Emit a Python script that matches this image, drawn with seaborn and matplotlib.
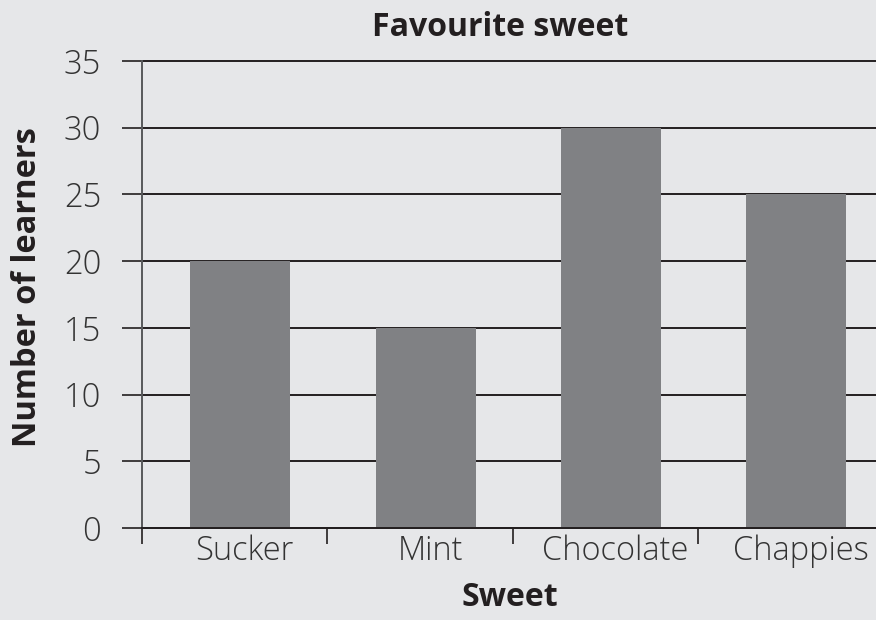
import matplotlib
matplotlib.use("Agg")
import matplotlib.pyplot as plt
import seaborn as sns
import pandas as pd

sweets = ["Sucker", "Mint", "Chocolate", "Chappies"]
learners = [20, 15, 30, 25]
y_ticks = [0, 5, 10, 15, 20, 25, 30, 35]

bg = "#e6e7e9"
bar_col = "#808184"
line_col = "#231f20"

sns.set_style("white")
plt.rcParams["font.family"] = ["Open Sans", "DejaVu Sans"]

df = pd.DataFrame({"sweet": sweets, "learners": learners})

fig = plt.figure(figsize=(8.76, 6.2), dpi=100, facecolor=bg)
ax = fig.add_axes([142 / 876, 1 - 528 / 620, 1 - 142 / 876, (528 - 61) / 620])
ax.set_facecolor(bg)

sns.barplot(data=df, x="sweet", y="learners", order=sweets, color=bar_col,
            width=0.54, saturation=1, linewidth=0, edgecolor="none", ax=ax, zorder=3)

ax.set_xlim(-0.53, 3.43)
ax.set_ylim(0, 35)
ax.set_yticks(y_ticks)
ax.set_yticklabels([str(v) for v in y_ticks], fontsize=23.5, fontweight="light", color="#333333")
ax.tick_params(axis="y", left=True, length=14.4, width=1.2, color=line_col, pad=15)

# category boundary ticks (major) and labels (minor, nudged a little right)
ax.set_xticks([i - 0.53 for i in range(len(sweets))])
ax.set_xticklabels([])
ax.set_xticks([i + 0.025 for i in range(len(sweets))], minor=True)
ax.set_xticklabels(sweets, minor=True, fontsize=23.5, fontweight="light", color="#333333")
ax.tick_params(axis="x", which="major", bottom=True, length=11.5, width=1.2, color=line_col)
ax.tick_params(axis="x", which="minor", bottom=True, length=0, pad=5)

ax.yaxis.grid(True, color=line_col, lw=1.4, zorder=1)
for gl in ax.get_ygridlines():
    gl.set_clip_on(False)
ax.set_axisbelow(True)

for s in ["top", "right"]:
    ax.spines[s].set_visible(False)
ax.spines["left"].set_color("#58595b")
ax.spines["left"].set_linewidth(1.4)
ax.spines["bottom"].set_color(line_col)
ax.spines["bottom"].set_linewidth(1.4)
ax.spines["bottom"].set_zorder(4)

ax.set_xlabel("")
ax.set_ylabel("")

fig.text(500 / 876, 1 - 27 / 620, "Favourite sweet", ha="center", va="center",
         fontsize=23, fontweight="bold", color=line_col)
fig.text(28 / 876, 1 - 287 / 620, "Number of learners", ha="center", va="center",
         rotation=90, fontsize=23.5, fontweight="bold", color=line_col)
fig.text(510 / 876, 1 - 598 / 620, "Sweet", ha="center", va="center",
         fontsize=23, fontweight="bold", color=line_col)

fig.savefig("out.png", dpi=100, facecolor=bg)
